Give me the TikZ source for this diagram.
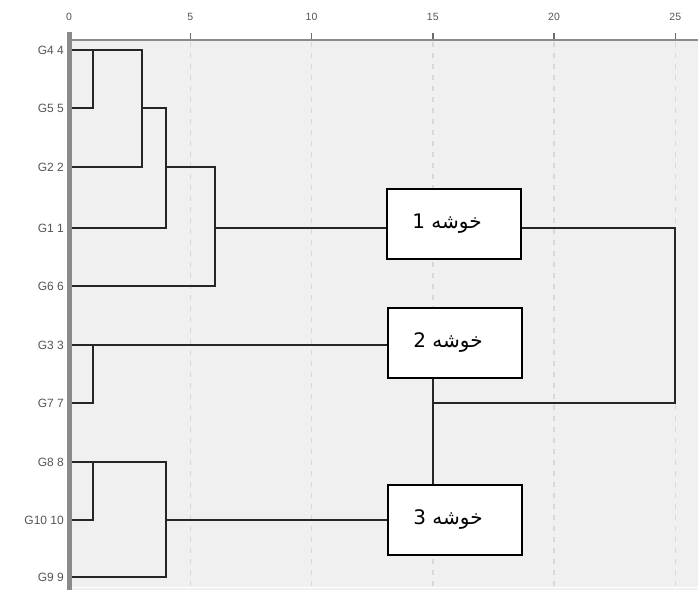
\documentclass[tikz,border=0pt]{standalone}
\usepackage{fontspec}
\setmainfont{Liberation Sans}
\newfontfamily\arabicfont[Script=Arabic]{DejaVu Sans}
\TeXXeTstate=1
\usepackage{tikz}

\definecolor{panel}{HTML}{F0F0F0}
\definecolor{gridc}{HTML}{D8D8D8}
\definecolor{axisc}{HTML}{8A8A8A}
\definecolor{labc}{HTML}{555555}

\tikzset{
  leaf/.style={anchor=east, inner sep=0pt, text=labc, font=\fontsize{12}{14}\selectfont},
  ticklab/.style={inner sep=0pt, text=labc, font=\fontsize{10.5}{12}\selectfont},
  link/.style={line width=1.8pt, draw=black!85},
  clusterbox/.style={draw=black, line width=1.7pt, fill=white, minimum width=134pt,
                     minimum height=70pt, inner sep=0pt, font=\arabicfont\fontsize{20}{24}\selectfont},
  gridline/.style={draw=gridc, line width=1.5pt, dash pattern=on 5pt off 6pt},
}

\begin{document}
\begin{tikzpicture}[x=1pt, y=-1pt]
        \useasboundingbox (0,0) rectangle (698,590);
        \fill[panel] (70,41) rectangle (698,590);
        \draw[white, line width=1pt] (70,587) -- (698,587);

        \foreach \v in {0,5,...,25} {
          \pgfmathsetmacro\xx{69+24.25*\v}
          \ifnum\v>0 \draw[gridline] (\xx,42) -- (\xx,590); \fi
          \draw[axisc!80!black, line width=1.5pt] (\xx,33) -- (\xx,40);
          \node[ticklab] (t\v) at (\xx,17) {\v};
        }
        \draw[axisc, line width=2pt] (69,40) -- (698,40);
        \draw[axisc, line width=5pt] (69.5,32) -- (69.5,590);

        \foreach \g/\y in {4/50, 5/108, 2/167, 1/228, 6/286,
                           3/345, 7/403, 8/462, 10/520, 9/577} {
          \node[leaf] (g\g) at (64,\y) {G\g\ \g};
          \coordinate (p\g) at (72,\y);
        }

        \node[clusterbox] (k1) at (454,224) {\beginR خوشه 1\endR\hspace*{14pt}};
        \node[clusterbox] (k2) at (455,343) {\beginR خوشه 2\endR\hspace*{14pt}};
        \node[clusterbox] (k3) at (455,520) {\beginR خوشه 3\endR\hspace*{14pt}};

        \coordinate (c1) at (93,50);
        \coordinate (c2) at (142,108);
        \coordinate (c3) at (166,167);
        \coordinate (c4) at (215,228);
        \coordinate (c5) at (166,520);
        \coordinate (c6) at (433,403);
        \coordinate (c7) at (675,403);

        \draw[link] (p4) -- (p4 -| c2) |- (p2);
        \draw[link] (p5) -| (c1);
        \draw[link] (c2) -| (c3 |- p1) -- (p1);
        \draw[link] (c3) -| (c4 |- p6) -- (p6);
        \draw[link] (c4) -- (c4 -| k1.west);

        \draw[link] (p3) -- (p3 -| k2.west);
        \draw[link] (p7) -| (p3 -| c1);

        \draw[link] (p8) -| (c5 |- p9) -- (p9);
        \draw[link] (p10) -| (p8 -| c1);
        \draw[link] (c5) -- (c5 -| k3.west);

        \draw[link] (c4 -| k1.east) -| (c7) -- (c6);
        \draw[link] (k2.south -| c6) -- (k3.north -| c6);
      \end{tikzpicture}
\end{document}
